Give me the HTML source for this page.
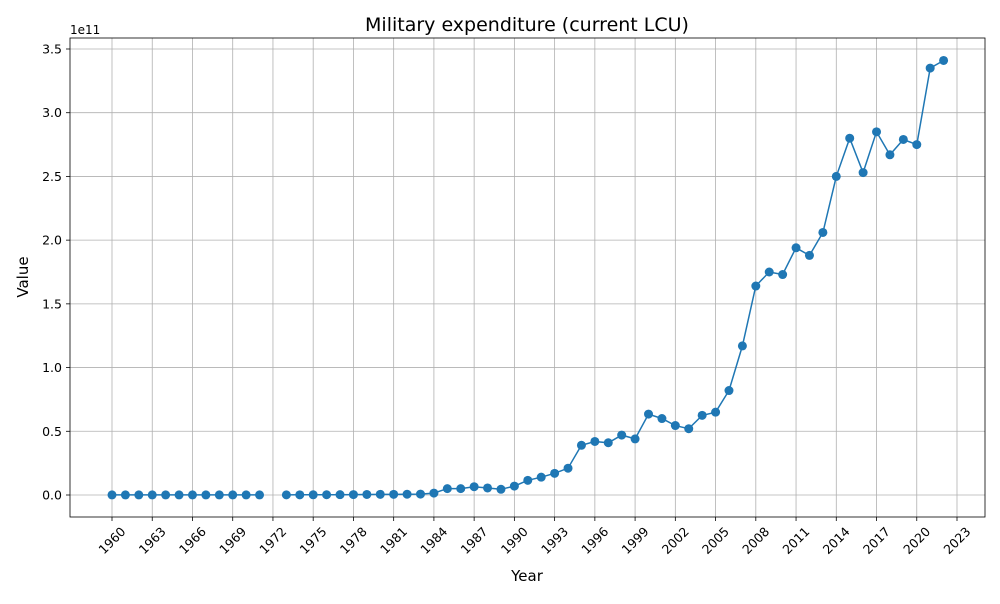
<!DOCTYPE html>
<html><head><meta charset="utf-8"><style>
body{margin:0;background:#fff;font-family:"DejaVu Sans","Liberation Sans",sans-serif}
</style></head><body>
<svg id="chart" width="1000" height="600" xmlns="http://www.w3.org/2000/svg" font-family="DejaVu Sans, Liberation Sans, sans-serif">
<rect width="1000" height="600" fill="#fff"/>
<g id="grid"></g>
<g id="ticks"></g>
<g id="series"></g>
<rect x="70" y="38" width="915" height="479" fill="none" stroke="#000" stroke-width="0.8"/>
<text x="527" y="31" font-size="19" text-anchor="middle">Military expenditure (current LCU)</text>
<text x="527" y="581" font-size="15" text-anchor="middle">Year</text>
<text x="28" y="277" font-size="15" text-anchor="middle" transform="rotate(-90 28 277)">Value</text>
<text x="70" y="34" font-size="12">1e11</text>
</svg>
<script>
const years = [1960,1961,1962,1963,1964,1965,1966,1967,1968,1969,1970,1971,1972,1973,1974,1975,1976,1977,1978,1979,1980,1981,1982,1983,1984,1985,1986,1987,1988,1989,1990,1991,1992,1993,1994,1995,1996,1997,1998,1999,2000,2001,2002,2003,2004,2005,2006,2007,2008,2009,2010,2011,2012,2013,2014,2015,2016,2017,2018,2019,2020,2021,2022];
const values = [0.0005,0.0005,0.0005,0.0005,0.0005,0.0005,0.0006,0.0006,0.0006,0.0007,0.0007,0.0008,null,0.001,0.0012,0.0015,0.002,0.0025,0.003,0.004,0.005,0.005,0.006,0.007,0.015,0.05,0.05,0.065,0.055,0.045,0.07,0.115,0.14,0.17,0.21,0.39,0.42,0.41,0.47,0.44,0.635,0.60,0.545,0.52,0.625,0.65,0.82,1.17,1.64,1.75,1.73,1.94,1.88,2.06,2.50,2.80,2.53,2.85,2.67,2.79,2.75,3.35,3.41];
const xTicks = [1960,1963,1966,1969,1972,1975,1978,1981,1984,1987,1990,1993,1996,1999,2002,2005,2008,2011,2014,2017,2020,2023];
const yTicks = [0,0.5,1.0,1.5,2.0,2.5,3.0,3.5];
const yTickLabels = ["0.0","0.5","1.0","1.5","2.0","2.5","3.0","3.5"];
const X=v=>112+(v-1960)*(845/63);
const Y=v=>495-v*127.43;
const NS="http://www.w3.org/2000/svg";
function mk(tag,attrs,parent,text){const e=document.createElementNS(NS,tag);for(const k in attrs)e.setAttribute(k,attrs[k]);if(text!==undefined)e.textContent=text;document.getElementById(parent).appendChild(e);return e;}
xTicks.forEach(t=>{
  const x=X(t);
  const g=mk('line',{x1:x,x2:x,y1:38,y2:517,stroke:'#b0b0b0','stroke-width':0.8},'grid');
  
  
  const tk=mk('line',{x1:x,x2:x,y1:517,y2:521,stroke:'#000','stroke-width':0.8},'ticks');
  
  
  const ax=x+8, ay=526;
  const l=mk('text',{x:ax,y:ay,'font-size':12.5,'text-anchor':'end',transform:`rotate(-45 ${ax} ${ay})`,dy:9},'ticks',String(t));
  
  
});
yTicks.forEach((t,i)=>{
  const y=Y(t);
  const g=mk('line',{x1:70,x2:985,y1:y,y2:y,stroke:'#b0b0b0','stroke-width':0.8},'grid');
  
  
  const tk=mk('line',{x1:66,x2:70,y1:y,y2:y,stroke:'#000','stroke-width':0.8},'ticks');
  
  
  const l=mk('text',{x:62,y:y+4.5,'font-size':12.5,'text-anchor':'end'},'ticks',yTickLabels[i]);
  
  
});
let segs=[],cur=[];
years.forEach((yr,i)=>{if(values[i]===null){if(cur.length)segs.push(cur);cur=[];}else cur.push(X(yr).toFixed(1)+','+Y(values[i]).toFixed(1));});
if(cur.length)segs.push(cur);
segs.forEach(s=>{
  const p=mk('polyline',{points:s.join(' '),fill:'none',stroke:'#1f77b4','stroke-width':1.5},'series');
  
  
});
years.forEach((yr,i)=>{
  if(values[i]===null)return;
  const c=mk('circle',{cx:X(yr),cy:Y(values[i]),r:4.5,fill:'#1f77b4'},'series');
  
  
});
</script>
</body></html>
